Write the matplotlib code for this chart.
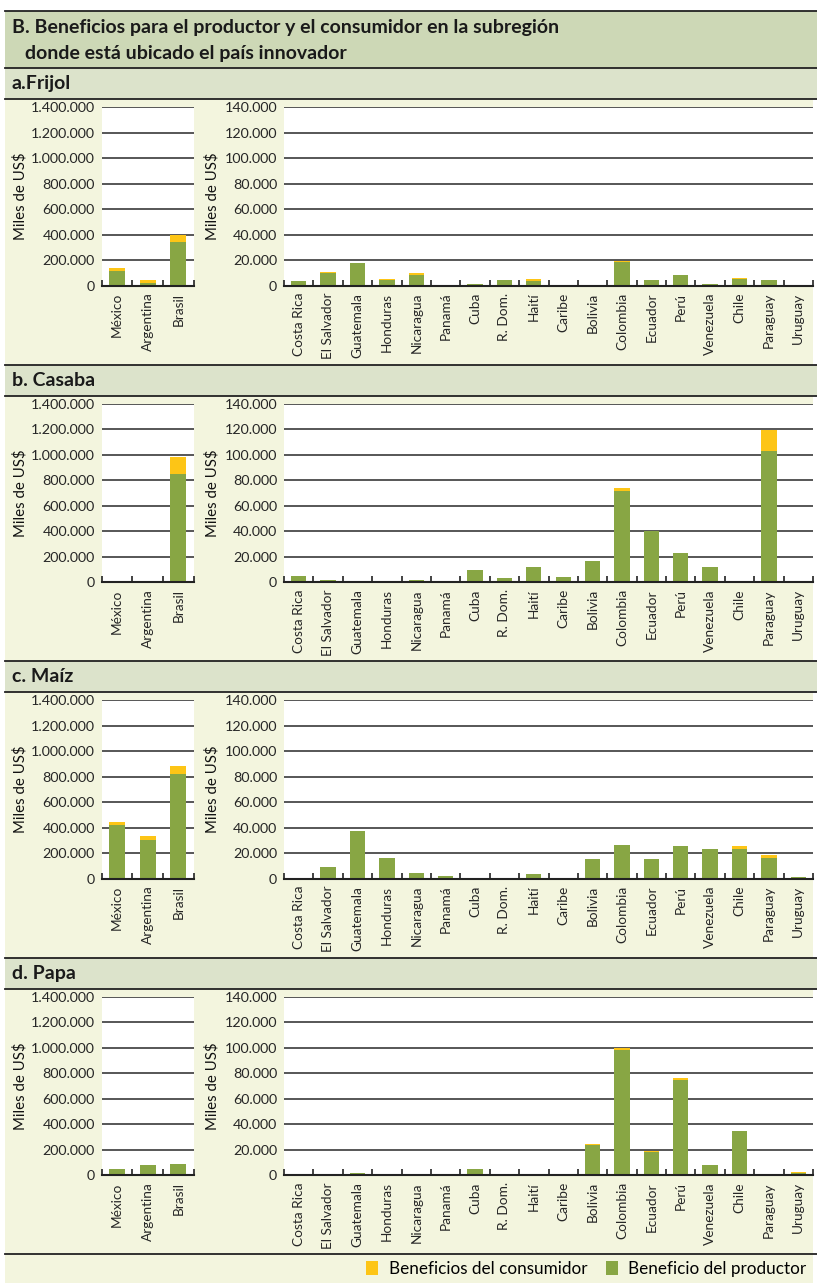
import matplotlib
matplotlib.use("Agg")
import matplotlib.pyplot as plt
from matplotlib.patches import Rectangle, Patch
from matplotlib.ticker import FuncFormatter, FixedLocator
import numpy as np

plt.rcParams['font.family'] = ['Lato', 'DejaVu Sans']

# ---------------- data ----------------
left_countries = ['México', 'Argentina', 'Brasil']
right_countries = ['Costa Rica', 'El Salvador', 'Guatemala', 'Honduras', 'Nicaragua',
                   'Panamá', 'Cuba', 'R. Dom.', 'Haití', 'Caribe', 'Bolivia', 'Colombia',
                   'Ecuador', 'Perú', 'Venezuela', 'Chile', 'Paraguay', 'Uruguay']

panel_titles = ['a.Frijol', 'b. Casaba', 'c. Maíz', 'd. Papa']

# Frijol
frijol_left_prod = [118000, 21000, 345000]
frijol_left_cons = [21000, 23000, 52000]
frijol_right_prod = [3900, 9700, 18000, 4700, 8600, 800, 1600, 4700, 3900, 0,
                     800, 18800, 4700, 8600, 1600, 5500, 4700, 0]
frijol_right_cons = [0, 1300, 0, 800, 1100, 0, 0, 0, 1600, 0,
                     0, 800, 0, 0, 0, 800, 0, 0]

# Casaba
casaba_left_prod = [0, 3000, 851000]
casaba_left_cons = [0, 0, 133000]
casaba_right_prod = [5200, 2100, 1300, 300, 2100, 1300, 9900, 2900, 12200, 4400,
                     16900, 71600, 40300, 23200, 12200, 0, 102800, 0]
casaba_right_cons = [0, 0, 0, 0, 0, 0, 0, 0, 0, 0,
                     0, 2300, 0, 0, 0, 0, 16400, 0]

# Maíz
maiz_left_prod = [419000, 301000, 819000]
maiz_left_cons = [29000, 31000, 61000]
maiz_right_prod = [800, 8800, 37600, 16000, 4800, 2400, 800, 800, 4000, 800,
                   15200, 26400, 15200, 25600, 23200, 23200, 16000, 1600]
maiz_right_cons = [0, 0, 0, 0, 0, 0, 0, 0, 0, 0,
                   0, 0, 0, 0, 0, 2400, 2400, 0]

# Papa
papa_left_prod = [48000, 80000, 88000]
papa_left_cons = [0, 0, 0]
papa_right_prod = [1100, 0, 1600, 0, 1100, 0, 4800, 1100, 0, 0,
                   24000, 98400, 18100, 74800, 7900, 34600, 0, 1600]
papa_right_cons = [0, 0, 0, 0, 0, 0, 0, 0, 0, 0,
                   800, 1600, 800, 1600, 0, 0, 0, 800]

left_ticks = [0, 200000, 400000, 600000, 800000, 1000000, 1200000, 1400000]
right_ticks = [0, 20000, 40000, 60000, 80000, 100000, 120000, 140000]

panels = [
    (frijol_left_prod, frijol_left_cons, frijol_right_prod, frijol_right_cons),
    (casaba_left_prod, casaba_left_cons, casaba_right_prod, casaba_right_cons),
    (maiz_left_prod, maiz_left_cons, maiz_right_prod, maiz_right_cons),
    (papa_left_prod, papa_left_cons, papa_right_prod, papa_right_cons),
]

label_cons = 'Beneficios del consumidor'
label_prod = 'Beneficio del productor'
header_lines = ['B. Beneficios para el productor y el consumidor en la subregión',
                'donde está ubicado el país innovador']

# ---------------- style ----------------
GREEN = '#88a644'
YELLOW = '#fdc516'
HEADER_BG = '#cdd8b6'
BAND_BG = '#dce3cb'
PANEL_BG = '#f3f5de'
DARK = '#222222'
GRID = '#3a3a3a'
TXT = '#262626'

W, H = 817, 1283
DPI = 100
fig = plt.figure(figsize=(W / DPI, H / DPI), dpi=DPI)
fig.patch.set_facecolor('white')

bg = fig.add_axes([0, 0, 1, 1], zorder=-10)
bg.set_xlim(0, W)
bg.set_ylim(H, 0)
bg.axis('off')

X0, X1 = 5, 817
# header band
bg.add_patch(Rectangle((X0, 10.5), X1 - X0, 57.5, facecolor=HEADER_BG, edgecolor='none'))
bg.plot([X0, X1], [10.5, 10.5], color=DARK, lw=1.3)
bg.text(12, 27, header_lines[0], fontsize=14, fontweight='bold', va='center', ha='left', color='#1a1a1a')
bg.text(25, 53, header_lines[1], fontsize=14, fontweight='bold', va='center', ha='left', color='#1a1a1a')

STEP = 296.5
band_tops = [68 + i * STEP for i in range(4)]
band_h = 31
for i, t in enumerate(band_tops):
    bottom_bg = band_tops[i + 1] if i < 3 else H
    bg.add_patch(Rectangle((X0, t + band_h), 813 - X0, bottom_bg - t - band_h,
                           facecolor=PANEL_BG, edgecolor='none'))
    bg.add_patch(Rectangle((X0, t), X1 - X0, band_h, facecolor=BAND_BG, edgecolor='none'))
    bg.plot([X0, X1], [t, t], color=DARK, lw=1.3)
    bg.plot([X0, X1], [t + band_h, t + band_h], color=DARK, lw=1.3)
    bg.text(12, t + band_h / 2, panel_titles[i], fontsize=14, fontweight='bold',
            va='center', ha='left', color='#1a1a1a')

# legend separator
bg.plot([X0, X1], [1254, 1254], color=DARK, lw=1.3)


def px_axes(x0, y0, x1, y1):
    return fig.add_axes([x0 / W, 1 - y1 / H, (x1 - x0) / W, (y1 - y0) / H])


def thousands(v, pos=None):
    return f'{int(round(v)):,}'.replace(',', '.')


def style_axes(ax, cats, ticks, prod, cons):
    n = len(cats)
    x = np.arange(n)
    ax.set_facecolor('white')
    ax.bar(x, prod, width=0.52, color=GREEN, zorder=3)
    ax.bar(x, cons, bottom=prod, width=0.52, color=YELLOW, zorder=3)
    ax.set_xlim(-0.5, n - 0.5)
    ax.set_ylim(0, ticks[-1])
    ax.set_yticks(ticks)
    ax.yaxis.set_major_formatter(FuncFormatter(thousands))
    ax.yaxis.grid(True, color=GRID, lw=1.2, zorder=1)
    ax.set_axisbelow(True)
    ax.set_xticks(x)
    ax.set_xticklabels(cats, rotation=90, fontsize=9.8, color=TXT)
    ax.xaxis.set_minor_locator(FixedLocator(np.arange(n + 1) - 0.5))
    ax.tick_params(axis='x', which='major', length=0, pad=5)
    ax.tick_params(axis='x', which='minor', length=4, width=1.2, direction='in', color=DARK)
    ax.tick_params(axis='y', length=0, pad=5, labelsize=10.3, labelcolor=TXT)
    for s in ['left', 'right', 'top']:
        ax.spines[s].set_visible(False)
    ax.spines['bottom'].set_color(DARK)
    ax.spines['bottom'].set_linewidth(1.5)
    ax.spines['bottom'].set_zorder(4)
    ax.set_ylabel('Miles de US$', fontsize=10.8, color='#111111')


axes_tops = [107 + i * STEP for i in range(4)]
AX_H = 178.7
for i, (lp, lc, rp, rc) in enumerate(panels):
    top = axes_tops[i]
    axl = px_axes(101.7, top, 193.7, top + AX_H)
    style_axes(axl, left_countries, left_ticks, lp, lc)
    axl.yaxis.set_label_coords(-0.81, 0.5)
    axr = px_axes(284, top, 813, top + AX_H)
    style_axes(axr, right_countries, right_ticks, rp, rc)
    axr.yaxis.set_label_coords(-0.121, 0.5)

handles = [Patch(facecolor=YELLOW, edgecolor='none', label=label_cons),
           Patch(facecolor=GREEN, edgecolor='none', label=label_prod)]
fig.legend(handles=handles, loc='center right', bbox_to_anchor=(813 / W, 1 - 1269 / H),
           ncol=2, frameon=False, fontsize=12.3, handlelength=0.7, handleheight=0.9,
           columnspacing=1.1, handletextpad=0.6, borderaxespad=0)

fig.savefig('out.png', dpi=DPI, facecolor=fig.get_facecolor())
